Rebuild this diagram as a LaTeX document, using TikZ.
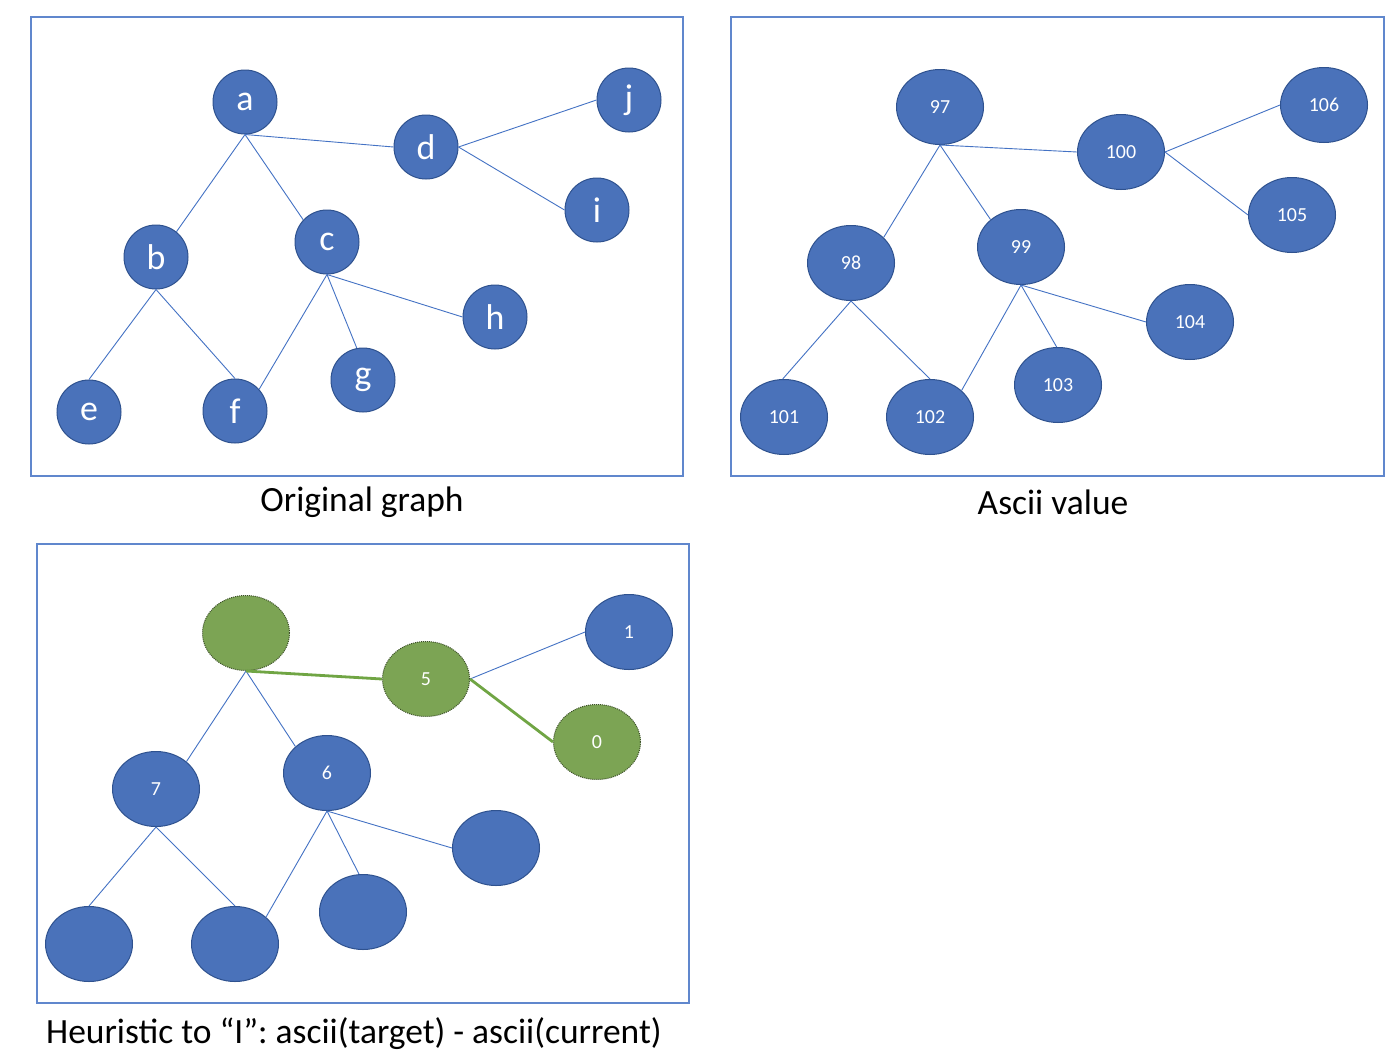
\documentclass[tikz,border=0pt]{standalone}
\usepackage{fontspec}
\setmainfont{Carlito}
\usetikzlibrary{shapes.geometric}
\definecolor{nblue}{RGB}{74,114,186}
\definecolor{eblue}{HTML}{4472C4}
\definecolor{nborder}{HTML}{2F528F}
\definecolor{ngreen}{RGB}{124,164,84}
\definecolor{gborder}{RGB}{60,80,40}
\definecolor{gedge}{RGB}{112,165,68}
\tikzset{
  panel/.style={draw=eblue!85, line width=1.3bp},
  letternode/.style={circle, fill=nblue, draw=nborder, line width=1bp, inner sep=0pt,
    minimum size=64bp, text=white, font=\fontsize{36}{40}\selectfont},
  numnode/.style={ellipse, fill=nblue, draw=nborder, line width=1bp, inner sep=0pt,
    minimum width=87bp, minimum height=75bp, text=white, font=\fontsize{20}{24}\selectfont},
  greennode/.style={numnode, fill=ngreen, draw=gborder, densely dotted},
  edge/.style={draw=eblue, line width=0.9bp},
  gpath/.style={draw=gedge, line width=2.8bp},
  caption/.style={font=\fontsize{35.6}{40}\selectfont, text=black, inner sep=0pt}
}
\begin{document}
\begin{tikzpicture}[x=1bp,y=-1bp]
\useasboundingbox (0,0) rectangle (1400,1063);
\fill[white] (0,0) rectangle (1400,1063);

% ---------- Panel 1: Original graph ----------
\draw[panel] (31,17) rectangle (683,476);
\node[letternode] (a) at (245,102) {a};
\node[letternode] (d) at (426,147) {d};
\node[letternode] (j) at (629,100) {j};
\node[letternode] (i) at (597,210) {i};
\node[letternode] (b) at (156,257) {b};
\node[letternode] (c) at (327,242) {c};
\node[letternode] (h) at (495,317) {h};
\node[letternode] (g) at (363,380) {g};
\node[letternode] (e) at (89,412) {e};
\node[letternode] (f) at (235,411) {f};
\draw[edge] (a.south) -- (b.51);
\draw[edge] (a.south) -- (c.137);
\draw[edge] (a.south) -- (d.180);
\draw[edge] (d.0) -- (j.180);
\draw[edge] (d.0) -- (i.180);
\draw[edge] (b.south) -- (e.90);
\draw[edge] (b.south) -- (f.90);
\draw[edge] (c.south) -- (f.42);
\draw[edge] (c.south) -- (g.101);
\draw[edge] (c.south) -- (h.180);
\node[caption] (cap1) at (362,502) {Original graph};

% ---------- Panel 2: Ascii value ----------
\draw[panel] (731,17) rectangle (1384,476);
\node[numnode] (n97) at (940,107) {97};
\node[numnode] (n100) at (1121,152) {100};
\node[numnode] (n106) at (1324,105) {106};
\node[numnode] (n105) at (1292,215) {105};
\node[numnode] (n98) at (851,263) {98};
\node[numnode] (n99) at (1021,247) {99};
\node[numnode] (n104) at (1190,322) {104};
\node[numnode] (n103) at (1058,385) {103};
\node[numnode] (n101) at (784,417) {101};
\node[numnode] (n102) at (930,417) {102};
\draw[edge] (n97.south) -- (n98.38);
\draw[edge] (n97.south) -- (n99.138);
\draw[edge] (n97.south) -- (n100.180);
\draw[edge] (n100.0) -- (n106.180);
\draw[edge] (n100.0) -- (n105.180);
\draw[edge] (n98.south) -- (n101.92);
\draw[edge] (n98.south) -- (n102.90);
\draw[edge] (n99.south) -- (n102.40);
\draw[edge] (n99.south) -- (n103.92);
\draw[edge] (n99.south) -- (n104.180);
\node[caption] (cap2) at (1053,502) {Ascii value};

% ---------- Panel 3: Heuristic ----------
\draw[panel] (37,544) rectangle (689,1003);
\node[greennode] (r) at (246,633) {};
\node[greennode] (h5) at (426,679) {5};
\node[numnode] (h1) at (629,632) {1};
\node[greennode] (h0) at (597,742) {0};
\node[numnode] (h7) at (156,789) {7};
\node[numnode] (h6) at (327,773) {6};
\node[numnode] (hh) at (496,848) {};
\node[numnode] (hg) at (363,912) {};
\node[numnode] (he) at (89,944) {};
\node[numnode] (hf) at (235,944) {};
\draw[edge] (r.south) -- (h7.42);
\draw[edge] (r.south) -- (h6.140);
\draw[edge] (h5.0) -- (h1.180);
\draw[gpath] (r.south) -- (h5.180);
\draw[gpath] (h5.0) -- (h0.180);
\draw[edge] (h7.south) -- (he.90);
\draw[edge] (h7.south) -- (hf.90);
\draw[edge] (h6.south) -- (hf.41);
\draw[edge] (h6.south) -- (hg.96);
\draw[edge] (h6.south) -- (hh.180);
\node[caption, anchor=west] (cap3) at (46,1034) {Heuristic to “I”: ascii(target) - ascii(current)};
\end{tikzpicture}
\end{document}
